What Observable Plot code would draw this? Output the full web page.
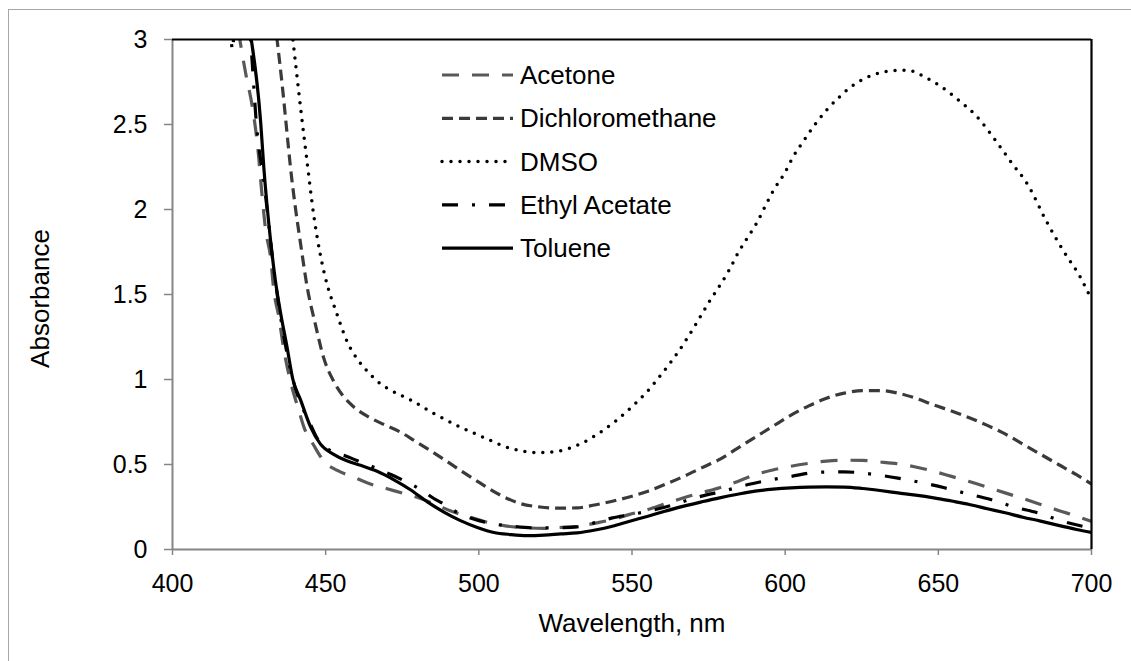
<!DOCTYPE html>
<html><head><meta charset="utf-8">
<script src="https://cdn.jsdelivr.net/npm/d3@7"></script>
<script src="https://cdn.jsdelivr.net/npm/@observablehq/plot@0.6"></script>
<style>
body{margin:0;background:#fff;}
#wrap{position:relative;width:1131px;height:661px;overflow:hidden;font-family:"Liberation Sans",Arial,sans-serif;background:#fff;}
#border{position:absolute;left:8px;top:9px;width:1300px;height:900px;border-left:1.5px solid #a6a6a6;border-top:1.5px solid #a6a6a6;}
#chart{position:absolute;left:0;top:0;}
#legend{position:absolute;left:0;top:0;}
</style></head><body>
<div id="wrap"><div id="border"></div><div id="chart"></div><svg id="legend" width="1131" height="661"></svg></div>
<script>
const seriesNames = ["Acetone", "Dichloromethane", "DMSO", "Ethyl Acetate", "Toluene"];
const xTicks = [400, 450, 500, 550, 600, 650, 700];
const yTicks = [0, 0.5, 1, 1.5, 2, 2.5, 3];
const xTitle = "Wavelength, nm";
const yTitle = "Absorbance";

const acetone = [[421.5,3.05],[423.9,2.80],[426.1,2.60],[427.8,2.37],[429.3,2.07],[430.4,1.88],[432,1.72],[433.1,1.52],[434.7,1.37],[436.4,1.17],[438.5,0.99],[441.2,0.82],[442.9,0.72],[446.2,0.61],[449.4,0.52],[453.8,0.465],[459.2,0.425],[464.6,0.385],[470.1,0.357],[475.5,0.33],[481,0.30],[486.4,0.26],[491.8,0.22],[497.3,0.19],[502.7,0.16],[508.2,0.14],[513.6,0.13],[521,0.124],[527,0.13],[532,0.135],[538,0.155],[543.6,0.176],[549,0.205],[555.2,0.235],[561,0.27],[566.9,0.304],[572.7,0.334],[578.6,0.363],[584.5,0.40],[590.2,0.44],[596,0.468],[601.9,0.49],[607.7,0.507],[613.5,0.52],[619.3,0.525],[625.2,0.524],[631,0.515],[636.8,0.504],[642.6,0.485],[648.5,0.46],[654.3,0.43],[660.1,0.40],[666,0.367],[671.8,0.333],[677.6,0.30],[683.4,0.265],[689.2,0.23],[695.1,0.196],[700,0.165]];

const dichloromethane = [[434,3.02],[436,2.7],[437.6,2.41],[438.5,2.25],[440.2,2.0],[441.8,1.8],[444,1.54],[446.7,1.32],[449.3,1.13],[452.6,0.99],[455.4,0.91],[459.1,0.84],[464,0.78],[469,0.735],[474.5,0.69],[479.4,0.635],[484.3,0.58],[488.6,0.53],[494,0.465],[500.5,0.39],[507,0.32],[513.6,0.27],[520,0.25],[526,0.243],[532,0.245],[537.8,0.262],[543.6,0.284],[549.4,0.31],[555.2,0.343],[561,0.385],[566.9,0.43],[572.7,0.48],[578.6,0.53],[584.4,0.595],[590.2,0.66],[596,0.725],[601.9,0.79],[607.7,0.845],[613.5,0.89],[619.3,0.92],[625.2,0.935],[631,0.935],[636.8,0.92],[642.6,0.89],[648.5,0.85],[654.3,0.815],[660.1,0.775],[666,0.73],[671.8,0.68],[677.6,0.62],[683.4,0.56],[689.2,0.50],[695.1,0.44],[700,0.385]];

const dmso = [[439,3.05],[441.8,2.6],[444,2.27],[446,1.98],[448.3,1.73],[450.6,1.55],[453,1.42],[457.1,1.22],[460.7,1.11],[463,1.06],[467.2,0.985],[470,0.95],[477.7,0.88],[485.3,0.80],[494,0.72],[501.5,0.66],[510.3,0.595],[519,0.57],[525.7,0.578],[533,0.62],[539.7,0.69],[545,0.76],[550,0.84],[555,0.93],[560,1.04],[565,1.16],[570,1.30],[575.3,1.46],[578.2,1.54],[581.6,1.64],[584.5,1.74],[587.9,1.84],[590.7,1.92],[593.5,2.02],[596.4,2.12],[599.7,2.21],[602.6,2.31],[605.9,2.40],[609.3,2.49],[613.3,2.58],[617.3,2.655],[622.9,2.74],[628.5,2.79],[634.2,2.815],[639.8,2.82],[645.5,2.78],[651.1,2.72],[656.8,2.64],[662.4,2.55],[668.1,2.42],[673.7,2.28],[679.4,2.14],[685,1.94],[690.7,1.76],[696.4,1.60],[700,1.47]];

const ethylAcetate = [[418.8,3.15],[419.6,2.93],[420.4,3.15],[424.5,3.2],[425.4,3.02],[427.6,2.46],[429.8,2.17],[431.5,1.9],[433,1.66],[435,1.4],[437,1.19],[439,1.02],[441.8,0.86],[444.7,0.75],[447.2,0.655],[450,0.6],[453,0.57],[456.5,0.55],[460,0.525],[463.6,0.50],[467.5,0.47],[471.5,0.44],[475,0.41],[478.8,0.375],[482,0.34],[485.3,0.30],[488.3,0.27],[491.3,0.235],[495,0.20],[500,0.17],[505,0.15],[509,0.14],[515,0.13],[520.3,0.127],[526,0.128],[532,0.133],[538,0.158],[543.6,0.186],[549.4,0.205],[555.2,0.225],[560,0.246],[564,0.265],[568,0.29],[572.7,0.314],[579.7,0.343],[587.9,0.382],[595.5,0.41],[601.9,0.43],[611.2,0.455],[619.3,0.457],[627.5,0.445],[636.8,0.42],[643.8,0.396],[652,0.363],[659,0.33],[667.1,0.294],[674.7,0.25],[682.3,0.216],[690.4,0.167],[700,0.125]];

const toluene = [[425,3.08],[428.8,2.51],[429.8,2.25],[432,1.82],[433.6,1.58],[435.3,1.39],[437.4,1.19],[439.3,1.0],[441.8,0.88],[445.1,0.72],[448.3,0.62],[452.6,0.56],[457.1,0.52],[461.4,0.495],[466.8,0.46],[472.3,0.41],[477.8,0.35],[483.2,0.28],[488.6,0.22],[494,0.17],[499.5,0.13],[504.9,0.10],[510.4,0.088],[515.8,0.082],[521.3,0.085],[526.7,0.092],[532,0.098],[538,0.115],[543.6,0.137],[549,0.165],[555.2,0.196],[561,0.226],[566.9,0.255],[572.7,0.28],[578.6,0.304],[584.5,0.325],[590.2,0.343],[596,0.355],[601.9,0.363],[607.7,0.367],[613.5,0.368],[619.3,0.367],[625.2,0.359],[631,0.347],[636.8,0.333],[642.6,0.32],[648.5,0.304],[654.3,0.285],[660.1,0.265],[666,0.24],[671.8,0.216],[677.6,0.19],[683.4,0.167],[689.2,0.142],[695.1,0.118],[700,0.10]];

const seriesData = [acetone, dichloromethane, dmso, ethylAcetate, toluene];
const styles = [
  {stroke: "#595959", strokeWidth: 3.2, strokeDasharray: "17,13", strokeLinecap: "butt"},
  {stroke: "#3a3a3a", strokeWidth: 3.2, strokeDasharray: "11,6", strokeLinecap: "butt"},
  {stroke: "#000", strokeWidth: 3.5, strokeDasharray: "0,9", strokeLinecap: "round"},
  {stroke: "#000", strokeWidth: 3.2, strokeDasharray: "16,14,3,14", strokeLinecap: "butt"},
  {stroke: "#000", strokeWidth: 3.2, strokeDasharray: null, strokeLinecap: "butt"}
];

const lineMarks = seriesData.map((data, i) => Plot.line(data, {
  x: d => d[0], y: d => d[1], curve: "monotone-x", clip: true,
  ...Object.fromEntries(Object.entries(styles[i]).filter(([k, v]) => v != null))
}));

const chart = Plot.plot({
  width: 1131, height: 661,
  marginLeft: 172, marginRight: 40, marginTop: 39, marginBottom: 112,
  style: {fontFamily: "Liberation Sans, Arial, sans-serif", fontSize: "25px", color: "#000", background: "transparent", overflow: "visible"},
  x: {domain: [400, 700]},
  y: {domain: [0, 3]},
  marks: [
    Plot.axisX({ticks: xTicks, tickSize: 6, tickPadding: 19, stroke: "#868686", strokeWidth: 1.5, fill: "#000", label: null, tickFormat: d => String(d), fontSize: 25}),
    Plot.axisY({ticks: yTicks, tickSize: 8, tickPadding: 17, stroke: "#868686", strokeWidth: 1.5, fill: "#000", label: null, tickFormat: d => String(d), fontSize: 25}),
    ...lineMarks,
    Plot.ruleY([0], {stroke: "#868686", strokeWidth: 2}),
    Plot.ruleX([400], {stroke: "#868686", strokeWidth: 2}),
    Plot.ruleY([3], {stroke: "#000", strokeWidth: 2.2}),
    Plot.ruleX([700], {stroke: "#000", strokeWidth: 2.2}),
    Plot.text([xTitle], {text: d => d, frameAnchor: "bottom", dy: 82, fontSize: 26, fill: "#000"}),
    Plot.text([yTitle], {text: d => d, frameAnchor: "left", textAnchor: "middle", dx: -132, dy: 4, rotate: -90, fontSize: 26, fill: "#000"})
  ]
});
document.getElementById("chart").appendChild(chart);

// in-plot legend
const leg = d3.select("#legend");
seriesNames.forEach((name, i) => {
  const y = 75 + 43.3 * i;
  const s = styles[i];
  const ln = leg.append("line").attr("x1", 442).attr("x2", 513).attr("y1", y).attr("y2", y)
    .attr("stroke", s.stroke).attr("stroke-width", s.strokeWidth).attr("stroke-linecap", s.strokeLinecap);
  if (s.strokeDasharray) ln.attr("stroke-dasharray", s.strokeDasharray);
  leg.append("text").attr("x", 520).attr("y", y + 9).attr("font-size", 26)
    .attr("font-family", "Liberation Sans, Arial, sans-serif").attr("fill", "#000").text(name);
});
</script>
</body></html>
